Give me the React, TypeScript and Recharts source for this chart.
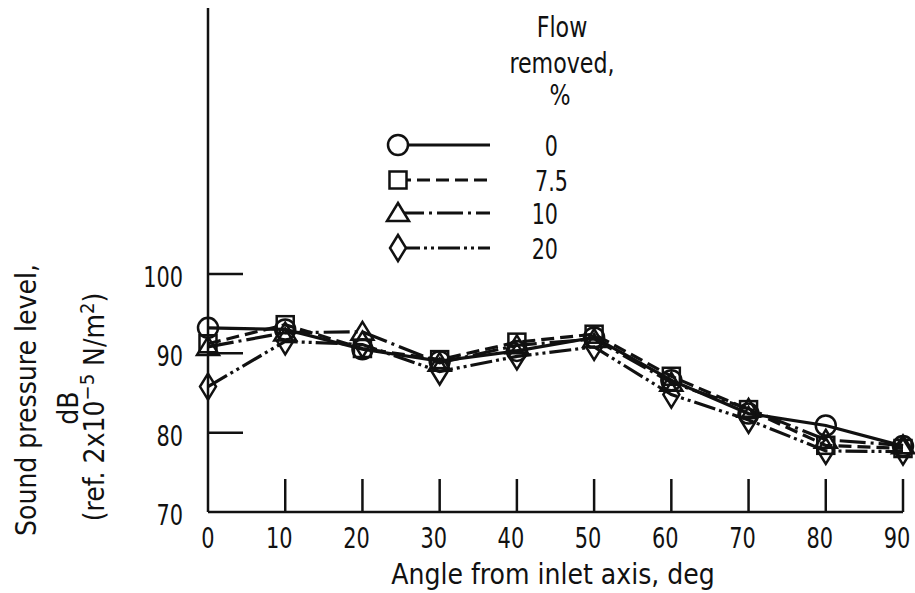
import React from "react";
import { LineChart, Line, XAxis, YAxis, Legend, Label } from "recharts";

// Angle from inlet axis, deg
const angles = [0, 10, 20, 30, 40, 50, 60, 70, 80, 90];

// Sound pressure level, dB, by flow removed
const flow0 = [93.2, 93.0, 90.5, 89.0, 90.3, 92.0, 86.6, 82.4, 80.9, 78.3];
const flow75 = [91.2, 93.6, 90.6, 89.2, 91.4, 92.4, 87.1, 82.9, 78.4, 78.0];
const flow10 = [90.8, 92.6, 92.7, 88.8, 91.0, 91.8, 86.3, 83.0, 79.1, 78.4];
const flow20 = [85.8, 91.5, 91.1, 87.7, 89.6, 90.8, 84.8, 81.6, 77.7, 77.6];

const xTicks = [0, 10, 20, 30, 40, 50, 60, 70, 80, 90];
const yTicks = [70, 80, 90, 100];

const INK = "#111";
const FONT = "'Liberation Sans Narrow', 'DejaVu Sans Condensed', 'Roboto Condensed', 'Arial Narrow', sans-serif";

type Shape = "circle" | "square" | "triangle" | "diamond";

const series: { key: string; name: string; shape: Shape; dash?: string }[] = [
  { key: "f0", name: "0", shape: "circle" },
  { key: "f75", name: "7.5", shape: "square", dash: "13 6" },
  { key: "f10", name: "10", shape: "triangle", dash: "26 5 3 5" },
  { key: "f20", name: "20", shape: "diamond", dash: "22 4 3 4 3 4" },
];

const data = angles.map((a, i) => ({
  angle: a,
  f0: flow0[i],
  f75: flow75[i],
  f10: flow10[i],
  f20: flow20[i],
}));

// narrow text, squeezed sideways like the typewriter-ish condensed face in the scan
function NText({ x, y, children, anchor = "middle", size = 29, sx = 0.8 }: any) {
  return (
    <text
      transform={`translate(${x},${y}) scale(${sx},1)`}
      textAnchor={anchor}
      fontSize={size}
      fontFamily={FONT}
      fill={INK}
    >
      {children}
    </text>
  );
}

function Marker({ shape, cx, cy, fill = "none" }: { shape: Shape; cx: number; cy: number; fill?: string }) {
  const st = { fill, stroke: INK, strokeWidth: 2.5 };
  if (shape === "circle") return <circle cx={cx} cy={cy} r={10} {...st} />;
  if (shape === "square") return <rect x={cx - 8.5} y={cy - 8.5} width={17} height={17} {...st} />;
  if (shape === "triangle")
    return <polygon points={`${cx},${cy - 10} ${cx + 11},${cy + 8} ${cx - 11},${cy + 8}`} {...st} />;
  return <polygon points={`${cx},${cy - 13} ${cx + 8},${cy} ${cx},${cy + 13} ${cx - 8},${cy}`} {...st} />;
}

function XTick({ x, y, payload }: any) {
  const v = payload.value;
  return (
    <g>
      {v !== 0 && <line x1={x} y1={y} x2={x} y2={y - 33} stroke={INK} strokeWidth={2.5} />}
      <NText x={v === 0 ? x : x - 6} y={y + 36}>
        {v}
      </NText>
    </g>
  );
}

function YTick({ x, y, payload }: any) {
  return (
    <g>
      {payload.value !== 70 && <line x1={x} y1={y} x2={x + 35} y2={y} stroke={INK} strokeWidth={2.5} />}
      <NText x={x - 25} y={y + 13} anchor="end">
        {payload.value}
      </NText>
    </g>
  );
}

const YTitle = () => (
  <g fontFamily={FONT} fontSize={28} fill={INK}>
    <text transform="translate(36, 400) rotate(-90)" textAnchor="middle">
      Sound pressure level,
    </text>
    <text transform="translate(78, 408) rotate(-90)" textAnchor="middle">
      dB
    </text>
    <text transform="translate(104, 407) rotate(-90)" textAnchor="middle">
      (ref.  2x10
      <tspan dy={-10} fontSize={20}>−5</tspan>
      <tspan dy={10}> N/m</tspan>
      <tspan dy={-10} fontSize={20}>2</tspan>
      <tspan dy={10}>)</tspan>
    </text>
  </g>
);

const XTitle = () => (
  <text x={553} y={584} textAnchor="middle" fontSize={28} fontFamily={FONT} fill={INK}>
    Angle from inlet axis, deg
  </text>
);

const legendRowY = [145, 180, 213, 248];

function LegendBox() {
  return (
    <svg width={915} height={280} style={{ display: "block" }}>
      <NText x={562} y={37} size={28} sx={0.88}>Flow</NText>
      <NText x={562} y={73} size={28} sx={0.88}>removed,</NText>
      <NText x={560} y={105} size={28} sx={0.88}>%</NText>
      {series.map((s, i) => {
        const cy = legendRowY[i];
        const wide = s.name === "7.5";
        return (
          <g key={s.key}>
            <line x1={398} y1={cy} x2={490} y2={cy} stroke={INK} strokeWidth={3} strokeDasharray={s.dash} />
            <Marker shape={s.shape} cx={398} cy={cy} fill="#fff" />
            <NText x={wide ? 535 : 558} y={cy + 11} anchor={wide ? "start" : "end"} size={28} sx={0.82}>
              {s.name}
            </NText>
          </g>
        );
      })}
    </svg>
  );
}

export default function App() {
  return (
    <div style={{ position: "absolute", left: 0, top: 0, width: 915, height: 593, background: "#fff" }}>
      <LineChart width={915} height={593} data={data} margin={{ top: 8, right: 12, bottom: 0, left: 0 }}>
        <XAxis
          dataKey="angle"
          type="number"
          domain={[0, 90]}
          ticks={xTicks}
          height={81}
          tickSize={0}
          tickMargin={0}
          tick={<XTick />}
          axisLine={{ stroke: INK, strokeWidth: 2.5 }}
          interval={0}
        >
          <Label content={XTitle} />
        </XAxis>
        <YAxis
          type="number"
          domain={[70, 133.5]}
          ticks={yTicks}
          width={208}
          tickSize={0}
          tickMargin={0}
          tick={<YTick />}
          axisLine={{ stroke: INK, strokeWidth: 2.5 }}
          interval={0}
        >
          <Label content={YTitle} />
        </YAxis>
        <Legend
          layout="horizontal"
          verticalAlign="middle"
          align="center"
          content={LegendBox}
          wrapperStyle={{ left: 0, top: 0, width: 915, height: 280 }}
        />
        {series.map((s) => (
          <Line
            key={s.key}
            dataKey={s.key}
            name={s.name}
            stroke={INK}
            strokeWidth={3.2}
            strokeDasharray={s.dash}
            isAnimationActive={false}
            dot={(p: any) => <Marker key={`${s.key}-${p.index}`} shape={s.shape} cx={p.cx} cy={p.cy} />}
            activeDot={false}
          />
        ))}
      </LineChart>
    </div>
  );
}
